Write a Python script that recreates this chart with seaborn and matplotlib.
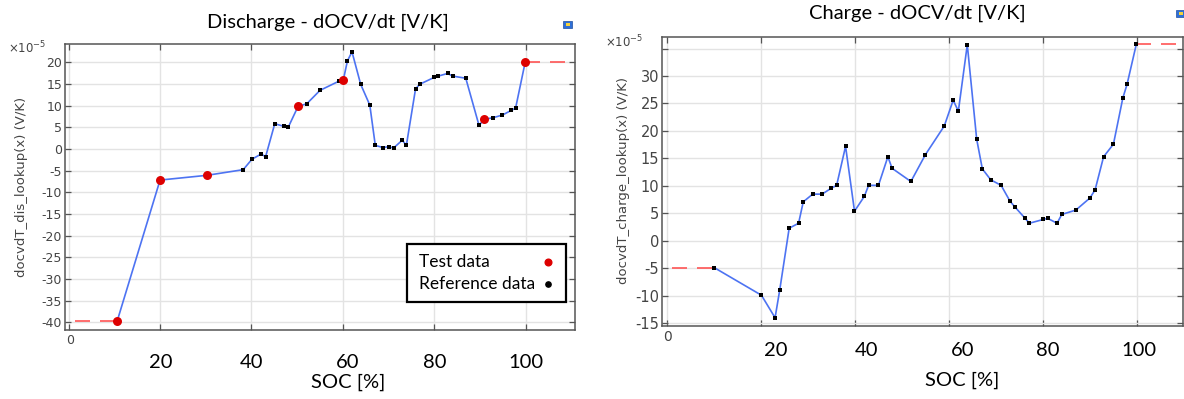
import numpy as np
import pandas as pd
import matplotlib
matplotlib.use("Agg")
import matplotlib.pyplot as plt
from matplotlib.patches import Rectangle
import seaborn as sns

# ---------------- data ----------------
dis_ref_soc = [38.2, 40.1, 42.1, 43.1, 45.1, 47.1, 48.1, 52.1, 55.0, 59.1, 61.0, 62.0, 63.9,
               65.9, 67.1, 68.8, 70.0, 71.1, 73.0, 73.9, 75.9, 76.8, 80.0, 80.9, 82.9, 84.0,
               86.9, 89.8, 92.9, 94.9, 96.9, 97.8]
dis_ref_val = [-4.8, -2.4, -1.2, -1.8, 5.8, 5.2, 5.1, 10.4, 13.5, 15.6, 20.3, 22.4, 14.9,
               10.1, 0.8, 0.3, 0.5, 0.2, 2.0, 0.8, 13.8, 14.9, 16.5, 16.8, 17.4, 16.8,
               16.3, 5.4, 7.2, 7.8, 8.9, 9.4]
dis_test_soc = [10.6, 20.0, 30.3, 50.2, 60.1, 90.9, 99.9]
dis_test_val = [-39.8, -7.2, -6.1, 9.8, 15.9, 6.8, 20.0]
dis_extrap_left_soc = [1.4, 10.6]
dis_extrap_left_val = [-39.8, -39.8]
dis_extrap_right_soc = [99.9, 110.0]
dis_extrap_right_val = [20.0, 20.0]

chg_ref_soc = [10.1, 20.1, 23.0, 24.0, 26.0, 28.0, 29.0, 31.0, 33.0, 35.0, 36.1, 38.0, 39.9,
               42.0, 42.9, 45.0, 47.0, 47.9, 51.9, 55.0, 59.0, 60.9, 62.0, 63.9, 65.9, 67.1,
               68.9, 71.1, 73.0, 74.0, 76.2, 77.1, 80.1, 81.0, 83.0, 84.0, 87.0, 90.0, 91.1,
               92.9, 95.0, 97.0, 97.9, 99.9]
chg_ref_val = [-4.9, -9.9, -14.0, -8.9, 2.3, 3.2, 7.1, 8.5, 8.5, 9.6, 10.1, 17.2, 5.4,
               8.1, 10.1, 10.1, 15.3, 13.2, 10.8, 15.7, 20.9, 25.6, 23.6, 35.7, 18.5, 13.1,
               11.1, 10.1, 7.2, 6.2, 4.1, 3.2, 3.9, 4.1, 3.2, 4.8, 5.6, 7.8, 9.3,
               15.3, 17.6, 26.0, 28.5, 35.9]
chg_extrap_left_soc = [1.0, 10.1]
chg_extrap_left_val = [-4.9, -4.9]
chg_extrap_right_soc = [99.9, 110.0]
chg_extrap_right_val = [35.9, 35.9]

dis_yticks = [20, 15, 10, 5, 0, -5, -10, -15, -20, -25, -30, -35, -40]
chg_yticks = [35, 30, 25, 20, 15, 10, 5, 0, -5, -10, -15]
xtick_vals = [0, 20, 40, 60, 80, 100]
xtick_labels = ["0", "20", "40", "60", "80", "100"]
legend_labels = ["Test data", "Reference data"]

# ---------------- style ----------------
sns.set_theme(style="white")
plt.rcParams["font.family"] = ["DejaVu Sans"]

W, H = 1184, 399
fig = plt.figure(figsize=(W / 100, H / 100), dpi=100)

BLUE = "#4d73f2"
RED = "#dd0000"
GRID = "#e3e3e3"
TICKCOL = "#444444"
LATO = ["Lato", "DejaVu Sans"]


def px_ax(l, t, r, b):
    return fig.add_axes([l / W, 1 - b / H, (r - l) / W, (b - t) / H])


def style_axes(ax, yticks, ylabels, yfs):
    ax.set_yticks(yticks)
    ax.set_yticklabels(ylabels, fontsize=yfs, color=TICKCOL)
    ax.set_xticks(xtick_vals)
    ax.set_xticklabels([])
    ax.grid(True, color=GRID, lw=1.0)
    ax.set_axisbelow(True)
    ax.tick_params(axis="both", direction="in", length=4, width=0.9, color="#555555",
                   top=True, right=True, left=True, bottom=True, pad=2)
    for s in ax.spines.values():
        s.set_color("#555555")
        s.set_linewidth(1.1)
    ax.set_xlabel("")
    ax.set_ylabel("")


def draw_panel(ax, ref_soc, ref_val, test_soc, test_val, extL, extR):
    line_df = pd.DataFrame({"soc": list(ref_soc) + list(test_soc),
                            "val": list(ref_val) + list(test_val)}).sort_values("soc")
    sns.lineplot(data=line_df, x="soc", y="val", ax=ax, color=BLUE, lw=1.2,
                 sort=False, estimator=None, zorder=3)
    for ex, ey in (extL, extR):
        ax.plot(ex, ey, color="#ff5555", lw=1.2, dashes=(9, 6), zorder=3)
    sns.scatterplot(x=ref_soc, y=ref_val, ax=ax, color="black", s=7, marker="s",
                    linewidth=0, zorder=4)
    if len(test_soc):
        sns.scatterplot(x=test_soc, y=test_val, ax=ax, color=RED, s=42, linewidth=0, zorder=5)


# ---------------- left: discharge ----------------
axL = px_ax(65, 44, 575, 330)
draw_panel(axL, dis_ref_soc, dis_ref_val, dis_test_soc, dis_test_val,
           (dis_extrap_left_soc, dis_extrap_left_val),
           (dis_extrap_right_soc, dis_extrap_right_val))
axL.set_xlim(-0.8, 110.8)
axL.set_ylim(-41.8, 24.2)
style_axes(axL, dis_yticks, [str(v) for v in dis_yticks], 9)
fig.text(8 / W, 1 - 48 / H, r"$\times10^{-5}$", fontsize=8.5, color=TICKCOL, ha="left", va="center")
fig.text(22 / W, 1 - 187 / H, "docvdT_dis_lookup(x) (V/K)", rotation=90, fontsize=9.5,
         color=TICKCOL, ha="center", va="center")
fig.text(328 / W, 1 - 22 / H, "Discharge - dOCV/dt [V/K]", fontsize=14.5, family=LATO,
         ha="center", va="center", color="black")
fig.text(348 / W, 1 - 382 / H, "SOC [%]", fontsize=14.5, family=LATO, ha="center",
         va="center", color="black")
left_label_px = [70, 161, 252, 348, 435, 526]
for i, (px, lab) in enumerate(zip(left_label_px, xtick_labels)):
    if i == 0:
        fig.text(px / W, 1 - 340 / H, lab, fontsize=9, color=TICKCOL, ha="center", va="center")
    else:
        fig.text(px / W, 1 - 362 / H, lab, fontsize=14.5, family=LATO, ha="center",
                 va="center", color="black")

# legend box (text left, marker right)
lx0, lx1, ly0, ly1 = 407, 566, 244, 302
axL.add_patch(Rectangle(((lx0 - 65) / 510, (330 - ly1) / 286), (lx1 - lx0) / 510, (ly1 - ly0) / 286,
                        transform=axL.transAxes, facecolor="white", edgecolor="black",
                        lw=1.6, zorder=10, clip_on=False))
leg_rows_py = [262, 284]
leg_colors = [RED, "black"]
leg_msize = [4.8, 3.8]
for lab, py, col, ms in zip(legend_labels, leg_rows_py, leg_colors, leg_msize):
    yy = (330 - py) / 286
    axL.text((419 - 65) / 510, yy, lab, transform=axL.transAxes, fontsize=12.5, family=LATO,
             ha="left", va="center", color="black", zorder=11)
    axL.plot([(548 - 65) / 510], [yy], transform=axL.transAxes, marker="o", ls="none",
             color=col, markersize=ms, zorder=11, clip_on=False)

# ---------------- right: charge ----------------
axR = px_ax(662, 37, 1183, 326)
draw_panel(axR, chg_ref_soc, chg_ref_val, [], [],
           (chg_extrap_left_soc, chg_extrap_left_val),
           (chg_extrap_right_soc, chg_extrap_right_val))
axR.set_xlim(-1.06, 109.8)
axR.set_ylim(-15.5, 37.1)
style_axes(axR, chg_yticks, ["" if v == 35 else str(v) for v in chg_yticks], 10.5)
fig.text(605 / W, 1 - 42 / H, r"$\times10^{-5}$", fontsize=8.5, color=TICKCOL, ha="left", va="center")
fig.text(624 / W, 1 - 180 / H, "docvdT_charge_lookup(x) (V/K)", rotation=90, fontsize=9.5,
         color=TICKCOL, ha="center", va="center")
fig.text(917 / W, 1 - 13 / H, "Charge - dOCV/dt [V/K]", fontsize=14.5, family=LATO,
         ha="center", va="center", color="black")
fig.text(962 / W, 1 - 380 / H, "SOC [%]", fontsize=14.5, family=LATO, ha="center",
         va="center", color="black")
right_label_px = [668, 776, 867, 963, 1048, 1139]
for i, (px, lab) in enumerate(zip(right_label_px, xtick_labels)):
    if i == 0:
        fig.text(px / W, 1 - 337 / H, lab, fontsize=10, color=TICKCOL, ha="center", va="center")
    else:
        fig.text(px / W, 1 - 351 / H, lab, fontsize=14.5, family=LATO, ha="center",
                 va="center", color="black")

# small window icons
for (ix, iy) in [(563, 21), (1176, 10)]:
    fig.add_artist(Rectangle((ix / W, 1 - (iy + 7) / H), 9 / W, 7 / H, transform=fig.transFigure,
                             facecolor="#2f6fd6", edgecolor="#1f4fa0", lw=0.5))
    fig.add_artist(Rectangle(((ix + 3) / W, 1 - (iy + 5) / H), 4 / W, 3 / H, transform=fig.transFigure,
                             facecolor="#f5d23c", edgecolor="none"))

fig.savefig("out.png", dpi=100)
